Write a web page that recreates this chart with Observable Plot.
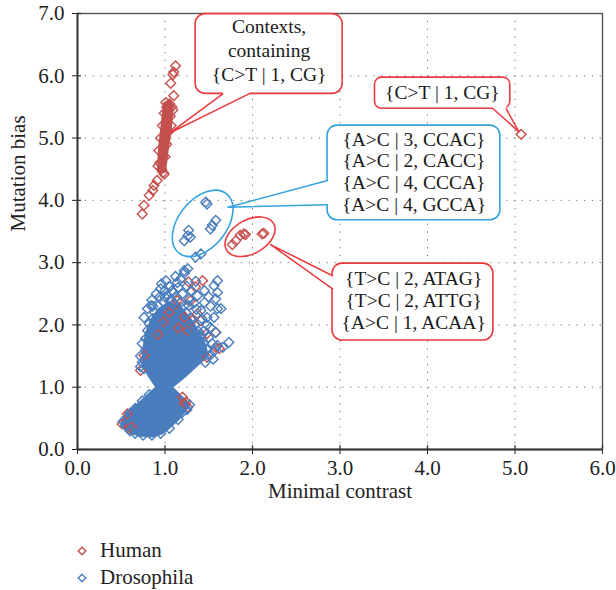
<!DOCTYPE html>
<html><head><meta charset="utf-8">
<script src="https://cdn.jsdelivr.net/npm/d3@7"></script>
<script src="https://cdn.jsdelivr.net/npm/@observablehq/plot@0.6"></script>
<style>
body{margin:0;background:#fff;font-family:"Liberation Serif",serif;}
#legend{padding-top:22px;font-size:21px;color:#222;}
.row{display:flex;align-items:center;height:27px;}
.row svg{margin-left:76px;margin-right:12px;}
</style></head><body>
<div id="chart"></div>
<div id="legend"></div>
<script>
// ---------- data ----------
const xTicks = [0, 1, 2, 3, 4, 5, 6];
const yTicks = [0, 1, 2, 3, 4, 5, 6, 7];
const seriesNames = ["Human", "Drosophila"];

// Human contexts [minimal contrast, mutation bias]
const humanPoints = [
  [1.12,6.16],[1.10,6.06],[1.09,6.02],[1.065,5.88],[1.10,5.68],[1.01,5.57],[1.05,5.55],[1.08,5.50],
  [0.99,4.42],[0.91,4.32],[0.875,4.24],[0.86,4.16],[0.82,4.08],[0.76,3.92],[0.74,3.78],
  [0.96,4.50],[0.94,4.60],[0.93,4.80],[0.95,5.00],[0.97,5.20],[0.99,5.40],[1.02,5.50],[1.06,5.35],
  [1.04,5.10],[1.02,4.90],[1.00,4.70],[1.09,5.45],[1.07,5.20],[0.92,4.55],[0.98,4.45],
  [5.07,5.06],
  [1.77,3.29],[1.81,3.35],[1.86,3.44],[1.90,3.46],[1.92,3.45],[2.11,3.46],[2.13,3.47],
  [1.43,2.71],[1.35,2.61],[1.27,2.69],[1.29,2.39],[1.37,2.18],[1.41,2.07],[1.48,1.86],[1.58,1.88],
  [1.58,1.64],[1.62,1.62],[1.48,1.48],[1.31,2.07],[1.14,2.39],[1.12,2.33],[1.22,2.12],[0.76,1.51],
  [0.72,1.27],[1.26,1.91],[1.05,2.20],[0.98,2.05],[1.15,1.95],[0.92,1.85],
  [0.51,0.41],[0.59,0.33],[0.57,0.57],[1.24,0.76],[1.20,0.84],[1.26,0.68],[0.62,0.36],[1.22,0.74]
];
// dense (overplotted) core of the human cloud
const humanDenseRegion = [
  [0.92,4.46],[1.00,4.46],[1.03,4.80],[1.06,5.07],[1.09,5.50],[1.05,5.60],[0.99,5.56],[0.95,5.07],[0.93,4.80]
];

// Drosophila contexts [minimal contrast, mutation bias]
const drosophilaPoints = [
  [1.41,3.14],[1.35,3.09],[1.26,2.90],[1.22,2.87],[1.22,2.83],[1.18,2.74],[1.01,2.71],[0.96,2.66],
  [1.60,2.71],[1.56,2.63],[1.60,2.52],[1.58,2.42],[1.60,2.26],[1.64,2.26],[1.56,2.12],[1.58,1.88],
  [1.60,1.67],[1.66,1.64],[1.73,1.72],[0.80,2.26],[0.84,2.31],[0.76,2.12],[0.82,2.02],[0.80,1.91],
  [0.78,1.78],[0.74,1.70],[0.76,1.30],[0.72,1.33],[1.03,2.47],[1.10,2.52],[1.27,2.31],[1.41,2.23],
  [1.48,2.12],[1.37,2.47],[1.45,2.36],[1.52,1.96],[1.41,1.83],[1.50,1.80],
  [0.88,2.20],[0.92,2.30],[0.98,2.38],[1.06,2.40],[1.13,2.45],[1.18,2.36],[1.24,2.20],[1.30,2.10],
  [1.34,2.00],[1.38,1.90],[1.44,1.70],[1.48,1.60],[1.52,1.52],[1.55,1.45],[1.46,1.40],[0.86,2.10],
  [0.90,2.00],[0.94,2.45],[1.00,2.55],[1.15,2.60],[1.20,2.50],[1.30,2.55],[1.33,2.35],[1.05,2.62],
  [1.12,2.78],[0.88,1.60],[0.72,1.50],[0.74,1.40],[0.78,1.60],
  [0.85,2.40],[0.90,2.50],[0.95,2.58],[1.08,2.55],[1.14,2.68],[1.25,2.62],[1.35,2.70],[1.45,2.55],
  [1.50,2.45],[1.52,2.30],[1.42,2.10],[1.36,2.25],[1.28,2.42],[1.22,2.30],[1.15,2.25],[1.10,2.35],
  [1.00,2.45],[0.92,2.15],[0.84,1.85],[0.82,1.70],[0.86,2.30],[1.48,2.00],[1.44,1.90],[1.54,1.70],
  [1.56,1.58],[1.40,1.55],[1.33,1.85],[1.28,2.00],
  [1.465,3.97],[1.48,3.94],[1.58,3.68],[1.54,3.60],[1.52,3.54],[1.27,3.52],[1.26,3.43],[1.22,3.35],[1.29,3.41],
  [0.52,0.45],[0.55,0.38],[0.60,0.30],[0.66,0.26],[0.75,0.23],[0.85,0.23],[0.95,0.26],[1.05,0.34],
  [1.15,0.48],[1.25,0.64],[1.28,0.72],[0.60,0.58],[0.66,0.66],[0.74,0.78],[0.82,0.88],[1.20,0.60]
];
// dense (overplotted) core of the Drosophila cloud
const drosophilaDenseRegion = [
  [0.50,0.42],[0.55,0.34],[0.62,0.26],[0.72,0.22],[0.87,0.21],[0.97,0.26],[1.06,0.36],[1.15,0.48],
  [1.22,0.60],[1.28,0.72],[1.08,1.00],[1.22,1.16],[1.36,1.34],[1.49,1.50],[1.46,1.68],[1.39,1.88],
  [1.30,2.08],[1.18,2.28],[1.05,2.36],[0.93,2.26],[0.84,2.08],[0.78,1.86],[0.75,1.60],[0.74,1.36],
  [0.82,1.17],[0.90,1.00],[0.72,0.77],[0.55,0.57]
];

// callout texts
const calloutTopText = ["Contexts,", "containing", "{C>T | 1, CG}"];
const calloutOutlierText = ["{C>T | 1, CG}"];
const calloutBlueText = ["{A>C | 3, CCAC}", "{A>C | 2, CACC}", "{A>C | 4, CCCA}", "{A>C | 4, GCCA}"];
const calloutRedText = ["{T>C | 2, ATAG}", "{T>C | 2, ATTG}", "{A>C | 1, ACAA}"];

// ---------- styling / annotation layout ----------
const humanColor = "#c4504e";
const drosColor = "#4a7dbd";
const calloutRed = "#e93a3c";
const calloutBlue = "#35a3de";
const boxFont = 19.5;

const callouts = [
  {color: calloutRed, rx: 10, x1: 1.35, x2: 3.03, y1: 5.71, y2: 6.99,
   tail: [[1.66,5.71],[1.065,5.09],[1.96,5.71]], inward: [0, 0.05],
   cx: 2.19, lines: calloutTopText, ly: [6.78, 6.40, 6.02]},
  {color: calloutRed, rx: 7, x1: 3.40, x2: 4.946, y1: 5.47, y2: 5.97,
   tail: [[4.75,5.47],[5.045,5.10],[4.90,5.47]], inward: [0, 0.05],
   cx: 4.17, lines: calloutOutlierText, ly: [5.72]},
  {color: calloutBlue, rx: 10, x1: 2.858, x2: 4.833, y1: 3.68, y2: 5.20,
   tail: [[2.858,4.32],[1.72,3.89],[2.858,3.93]], inward: [0.04, 0],
   cx: 3.845, lines: calloutBlueText, ly: [4.98, 4.628, 4.276, 3.924]},
  {color: calloutRed, rx: 10, x1: 2.915, x2: 4.753, y1: 1.75, y2: 2.985,
   tail: [[2.915,2.79],[2.207,3.29],[2.915,2.58]], inward: [0.04, 0],
   cx: 3.842, lines: calloutRedText, ly: [2.74, 2.388, 2.036]}
];
const highlightEllipses = [
  {cx: 1.436, cy: 3.623, a: 38, b: 24, angle: -51, color: calloutBlue},
  {cx: 1.978, cy: 3.408, a: 27, b: 17, angle: -29, color: calloutRed}
];

const X = d => d[0], Y = d => d[1];
const fmt = d => d.toFixed(1);

const calloutMarks = [];
for (const c of callouts) {
  const [b1, tip, b2] = c.tail;
  const b1in = [b1[0] + c.inward[0], b1[1] + c.inward[1]];
  const b2in = [b2[0] + c.inward[0], b2[1] + c.inward[1]];
  calloutMarks.push(
    Plot.rect([c], {x1: "x1", x2: "x2", y1: "y1", y2: "y2", rx: c.rx, ry: c.rx,
      fill: "white", stroke: c.color, strokeWidth: 1.6}),
    Plot.line([b1in, b1, tip, b2, b2in], {x: X, y: Y, fill: "white", stroke: "none", curve: "linear-closed"}),
    Plot.line([b1, tip, b2], {x: X, y: Y, stroke: c.color, strokeWidth: 1.5}),
    Plot.text(c.lines.map((t, i) => ({t, y: c.ly[i]})), {x: () => c.cx, y: "y", text: "t",
      fontSize: boxFont, fill: "#1a1a1a", textAnchor: "middle", letterSpacing: "0.5px"})
  );
}

const plot = Plot.plot({
  width: 616, height: 515,
  marginTop: 13, marginBottom: 66, marginLeft: 77, marginRight: 14,
  style: {fontFamily: '"Liberation Serif", serif', fontSize: "21px", color: "#222", background: "#fff", overflow: "visible"},
  x: {domain: [0, 6], ticks: xTicks, tickFormat: fmt, tickSize: 5, tickPadding: 6, label: null},
  y: {domain: [0, 7], ticks: yTicks, tickFormat: fmt, tickSize: 5, tickPadding: 8, label: null},
  marks: [
    Plot.ruleX(xTicks.filter(d => d > 0 && d < 6), {stroke: "#777", strokeWidth: 1, strokeDasharray: "1.3,6.5"}),
    Plot.ruleY(yTicks.filter(d => d > 0 && d < 7), {stroke: "#777", strokeWidth: 1, strokeDasharray: "1.3,6.5"}),
    Plot.frame({stroke: "#555", strokeWidth: 1.4}),
    Plot.ruleX([0], {stroke: "#333", strokeWidth: 1.8}),
    Plot.ruleY([0], {stroke: "#333", strokeWidth: 1.8}),
    Plot.ruleX(xTicks, {y1: 0, y2: 0.06, stroke: "#333", strokeWidth: 1.3}),
    Plot.ruleY(yTicks, {x1: 0, x2: 0.045, stroke: "#333", strokeWidth: 1.3}),
    Plot.line(drosophilaDenseRegion, {x: X, y: Y, fill: drosColor, stroke: drosColor, strokeWidth: 2, curve: "linear-closed"}),
    Plot.line(humanDenseRegion, {x: X, y: Y, fill: humanColor, stroke: humanColor, strokeWidth: 2, curve: "linear-closed"}),
    Plot.dot(humanPoints, {x: X, y: Y, symbol: "diamond2", r: 4.4, stroke: humanColor, strokeWidth: 1.4, fill: "none"}),
    Plot.dot(drosophilaPoints, {x: X, y: Y, symbol: "diamond2", r: 4.4, stroke: drosColor, strokeWidth: 1.4, fill: "none"}),
    ...calloutMarks,
    Plot.text(["Minimal contrast"], {frameAnchor: "bottom", dy: 48, fontSize: 21, fill: "#222"}),
    Plot.text(["Mutation bias"], {frameAnchor: "left", dx: -59, rotate: -90, fontSize: 21, fill: "#222"})
  ]
});

const svg = plot.tagName.toLowerCase() === "svg" ? plot : plot.querySelector("svg");
const sx = plot.scale("x"), sy = plot.scale("y");
const map = (s, v) => s.apply ? s.apply(v) : s.range[0] + (v - s.domain[0]) / (s.domain[1] - s.domain[0]) * (s.range[1] - s.range[0]);
for (const e of highlightEllipses) {
  const el = document.createElementNS("http://www.w3.org/2000/svg", "ellipse");
  const px = map(sx, e.cx), py = map(sy, e.cy);
  el.setAttribute("cx", 0); el.setAttribute("cy", 0);
  el.setAttribute("rx", e.a); el.setAttribute("ry", e.b);
  el.setAttribute("transform", `translate(${px},${py}) rotate(${e.angle})`);
  el.setAttribute("fill", "none"); el.setAttribute("stroke", e.color); el.setAttribute("stroke-width", 1.6);
  svg.appendChild(el);
}
document.getElementById("chart").appendChild(plot);

// legend
const legend = document.getElementById("legend");
[[seriesNames[0], humanColor], [seriesNames[1], drosColor]].forEach(([name, col]) => {
  const row = document.createElement("div");
  row.className = "row";
  row.innerHTML = `<svg width="12" height="12" viewBox="0 0 12 12"><path d="M6,2.2L9.8,6L6,9.8L2.2,6Z" fill="none" stroke="${col}" stroke-width="1.4"/></svg><span>${name}</span>`;
  legend.appendChild(row);
});
</script>
</body></html>
